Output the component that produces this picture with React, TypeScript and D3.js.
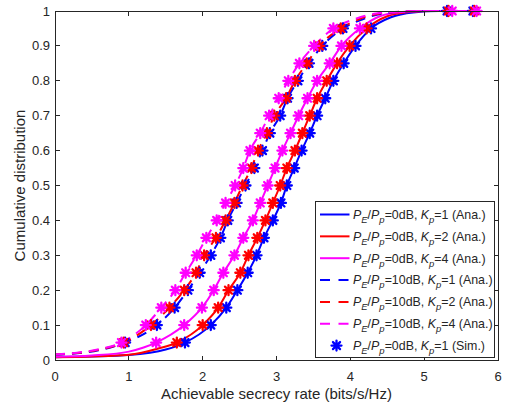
import React from "react";
import * as d3 from "d3";

// CDF levels at which the simulated points are sampled
const cdfLevels = [0.05, 0.1, 0.15, 0.2, 0.25, 0.3, 0.35, 0.4, 0.45, 0.5, 0.55, 0.6, 0.65, 0.7, 0.75, 0.8, 0.85, 0.9, 0.95, 1.0];

// Simulated rates (bits/s/Hz) at each CDF level
const simSolidBlue = [1.76, 2.11, 2.32, 2.47, 2.61, 2.73, 2.83, 2.95, 3.06, 3.14, 3.24, 3.34, 3.45, 3.55, 3.66, 3.77, 3.91, 4.07, 4.28, 5.31];
const simSolidRed = [1.65, 2.0, 2.21, 2.35, 2.51, 2.62, 2.74, 2.85, 2.95, 3.05, 3.14, 3.25, 3.35, 3.45, 3.55, 3.68, 3.82, 3.99, 4.22, 5.33];
const simSolidMagenta = [1.37, 1.75, 1.99, 2.15, 2.28, 2.43, 2.55, 2.68, 2.78, 2.88, 2.98, 3.08, 3.19, 3.3, 3.42, 3.55, 3.72, 3.88, 4.13, 5.38];
const simDashBlue = [0.95, 1.38, 1.62, 1.8, 1.96, 2.11, 2.24, 2.34, 2.46, 2.58, 2.7, 2.81, 2.91, 3.05, 3.15, 3.29, 3.44, 3.62, 3.9, 5.66];
const simDashRed = [0.93, 1.3, 1.55, 1.75, 1.91, 2.02, 2.18, 2.31, 2.43, 2.54, 2.66, 2.75, 2.87, 2.97, 3.13, 3.25, 3.41, 3.58, 3.87, 5.68];
const simDashMagenta = [0.9, 1.23, 1.44, 1.63, 1.77, 1.92, 2.05, 2.19, 2.31, 2.44, 2.55, 2.64, 2.78, 2.9, 3.03, 3.16, 3.31, 3.51, 3.77, 5.71];

// Analytical curve ends: low-rate head and saturating tail ([rate, cdf])
const headSolidBlue: [number, number][] = [[0, 0.008], [0.5, 0.01], [1.0, 0.014], [1.5, 0.03]];
const headSolidRed: [number, number][] = [[0, 0.008], [0.5, 0.01], [1.0, 0.015], [1.4, 0.033]];
const headSolidMagenta: [number, number][] = [[0, 0.009], [0.5, 0.013], [1.0, 0.024], [1.2, 0.036]];
const headDashBlue: [number, number][] = [[0, 0.015], [0.3, 0.019], [0.6, 0.028]];
const headDashRed: [number, number][] = [[0, 0.016], [0.3, 0.02], [0.6, 0.03]];
const headDashMagenta: [number, number][] = [[0, 0.016], [0.3, 0.021], [0.6, 0.031]];

const tailSolidBlue: [number, number][] = [[4.55, 0.982], [4.85, 0.996], [5.2, 1], [5.7, 1]];
const tailSolidRed: [number, number][] = [[4.5, 0.985], [4.8, 0.997], [5.1, 1], [5.7, 1]];
const tailSolidMagenta: [number, number][] = [[4.4, 0.985], [4.7, 0.997], [5.0, 1], [5.7, 1]];
const tailDashBlue: [number, number][] = [[4.15, 0.975], [4.45, 0.993], [4.75, 0.998], [5.05, 1], [5.7, 1]];
const tailDashRed: [number, number][] = [[4.1, 0.975], [4.4, 0.993], [4.7, 0.998], [5.0, 1], [5.7, 1]];
const tailDashMagenta: [number, number][] = [[4.05, 0.976], [4.35, 0.993], [4.65, 0.998], [4.95, 1], [5.7, 1]];

const xTicks = [0, 1, 2, 3, 4, 5, 6];
const yTicks = [0, 0.1, 0.2, 0.3, 0.4, 0.5, 0.6, 0.7, 0.8, 0.9, 1];

const BLUE = "#0000ff";
const RED = "#ff0000";
const MAGENTA = "#ff00ff";
const AXIS = "#262626";

type Series = {
  color: string;
  dashed: boolean;
  sim: number[];
  head: [number, number][];
  tail: [number, number][];
  pe: string;
  kp: string;
  tag: string;
};

const series: Series[] = [
  { color: BLUE, dashed: false, sim: simSolidBlue, head: headSolidBlue, tail: tailSolidBlue, pe: "0", kp: "1", tag: "Ana." },
  { color: RED, dashed: false, sim: simSolidRed, head: headSolidRed, tail: tailSolidRed, pe: "0", kp: "2", tag: "Ana." },
  { color: MAGENTA, dashed: false, sim: simSolidMagenta, head: headSolidMagenta, tail: tailSolidMagenta, pe: "0", kp: "4", tag: "Ana." },
  { color: BLUE, dashed: true, sim: simDashBlue, head: headDashBlue, tail: tailDashBlue, pe: "10", kp: "1", tag: "Ana." },
  { color: RED, dashed: true, sim: simDashRed, head: headDashRed, tail: tailDashRed, pe: "10", kp: "2", tag: "Ana." },
  { color: MAGENTA, dashed: true, sim: simDashMagenta, head: headDashMagenta, tail: tailDashMagenta, pe: "10", kp: "4", tag: "Ana." },
];

const W = 505;
const H = 410;
const plot = { left: 55, right: 498, top: 11, bottom: 360 };

const x = d3.scaleLinear().domain([0, 6]).range([plot.left, plot.right]);
const y = d3.scaleLinear().domain([0, 1]).range([plot.bottom, plot.top]);

const line = d3
  .line<[number, number]>()
  .x((d) => x(d[0]))
  .y((d) => y(d[1]))
  .curve(d3.curveMonotoneX);

function curvePoints(s: Series): [number, number][] {
  const mid: [number, number][] = s.sim
    .slice(0, cdfLevels.length - 1)
    .map((v, i) => [v, cdfLevels[i]]);
  return [...s.head, ...mid, ...s.tail];
}

function asterisk(r: number) {
  const d = r * 0.7071;
  return `M${-r},0L${r},0M0,${-r}L0,${r}M${-d},${-d}L${d},${d}M${-d},${d}L${d},${-d}`;
}

const markerPath = asterisk(5);

function LegendLabel({ pe, kp, tag, xPos, yPos }: { pe: string; kp: string; tag: string; xPos: number; yPos: number }) {
  const sub = 9.5;
  const shift = 4;
  return (
    <text x={xPos} y={yPos} fontSize={12.4} fill={AXIS} dy="0.35em">
      <tspan fontStyle="italic">P</tspan>
      <tspan fontStyle="italic" fontSize={sub} dy={shift}>E</tspan>
      <tspan dy={-shift}>/</tspan>
      <tspan fontStyle="italic">P</tspan>
      <tspan fontStyle="italic" fontSize={sub} dy={shift}>p</tspan>
      <tspan dy={-shift}>{`=${pe}dB, `}</tspan>
      <tspan fontStyle="italic">K</tspan>
      <tspan fontStyle="italic" fontSize={sub} dy={shift}>p</tspan>
      <tspan dy={-shift}>{`=${kp} (${tag})`}</tspan>
    </text>
  );
}

export default function App() {
  const legend = { x0: 315.5, x1: 494.5, y0: 201.5, y1: 357.5 };
  const rowY = (i: number) => 214.5 + i * 21.85;
  const legendRows = [
    ...series.map((s) => ({ kind: "line" as const, s })),
    { kind: "marker" as const, s: { ...series[0], tag: "Sim." } },
  ];

  return (
    <svg
      width={W}
      height={H}
      style={{ position: "absolute", left: 0, top: 0, background: "#fff" }}
      fontFamily="'Liberation Sans', Arial, Helvetica, sans-serif"
    >
      <rect x={0} y={0} width={W} height={H} fill="#fff" />

      {/* analytical curves */}
      <g fill="none">
        {series.map((s, i) => (
          <path
            key={`l${i}`}
            d={line(curvePoints(s)) || ""}
            stroke={s.color}
            strokeWidth={2}
            strokeDasharray={s.dashed ? "10,7" : undefined}
          />
        ))}
      </g>

      {/* simulated points */}
      <g fill="none" strokeWidth={2.3} strokeLinecap="round">
        {series.map((s, i) =>
          s.sim.map((v, j) => (
            <path
              key={`m${i}-${j}`}
              d={markerPath}
              transform={`translate(${x(v)},${y(cdfLevels[j])})`}
              stroke={s.color}
            />
          ))
        )}
      </g>

      {/* axes box and ticks */}
      <g stroke={AXIS} strokeWidth={1} fill="none" shapeRendering="crispEdges">
        <rect x={plot.left} y={plot.top} width={plot.right - plot.left} height={plot.bottom - plot.top} />
        {xTicks.map((t) => (
          <g key={`xt${t}`}>
            <line x1={x(t)} x2={x(t)} y1={plot.bottom} y2={plot.bottom - 4.5} />
            <line x1={x(t)} x2={x(t)} y1={plot.top} y2={plot.top + 4.5} />
          </g>
        ))}
        {yTicks.map((t) => (
          <g key={`yt${t}`}>
            <line x1={plot.left} x2={plot.left + 4.5} y1={y(t)} y2={y(t)} />
            <line x1={plot.right} x2={plot.right - 4.5} y1={y(t)} y2={y(t)} />
          </g>
        ))}
      </g>

      <g fontSize={13} fill={AXIS}>
        {xTicks.map((t) => (
          <text key={`xl${t}`} x={x(t)} y={380.5} textAnchor="middle">
            {d3.format("d")(t)}
          </text>
        ))}
        {yTicks.map((t) => (
          <text key={`yl${t}`} x={50} y={y(t)} dy="0.35em" textAnchor="end">
            {t === 0 || t === 1 ? d3.format("d")(t) : d3.format(".1f")(t)}
          </text>
        ))}
      </g>

      <text x={(plot.left + plot.right) / 2} y={399} textAnchor="middle" fontSize={15} fill={AXIS}>
        Achievable secrecy rate (bits/s/Hz)
      </text>
      <text
        transform={`translate(24.5,${(plot.top + plot.bottom) / 2}) rotate(-90)`}
        textAnchor="middle"
        fontSize={15}
        fill={AXIS}
      >
        Cumulative distribution
      </text>

      {/* legend */}
      <rect
        x={legend.x0}
        y={legend.y0}
        width={legend.x1 - legend.x0}
        height={legend.y1 - legend.y0}
        fill="#fff"
        stroke={AXIS}
        strokeWidth={1}
        shapeRendering="crispEdges"
      />
      {legendRows.map((row, i) => {
        const yy = rowY(i);
        return (
          <g key={`lg${i}`}>
            {row.kind === "line" ? (
              <line
                x1={320}
                x2={349.5}
                y1={yy}
                y2={yy}
                stroke={row.s.color}
                strokeWidth={2}
                strokeDasharray={row.s.dashed ? "10,8.5" : undefined}
              />
            ) : (
              <path
                d={markerPath}
                transform={`translate(336.5,${yy})`}
                stroke={row.s.color}
                strokeWidth={2.3}
                fill="none"
                strokeLinecap="round"
              />
            )}
            <LegendLabel pe={row.s.pe} kp={row.s.kp} tag={row.s.tag} xPos={353} yPos={yy} />
          </g>
        );
      })}
    </svg>
  );
}
